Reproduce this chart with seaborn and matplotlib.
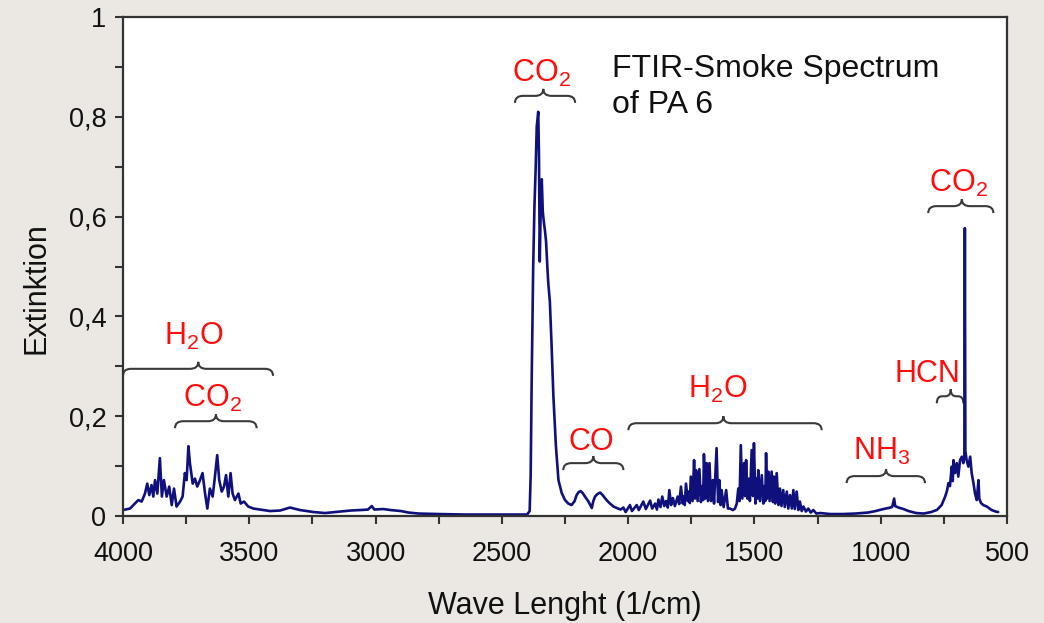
import numpy as np
import pandas as pd
import seaborn as sns
import matplotlib.pyplot as plt
from matplotlib.path import Path
from matplotlib.patches import PathPatch
from matplotlib.ticker import MultipleLocator, FuncFormatter

# ---- spectrum (wave number in 1/cm, extinction) ----
wave = [4000, 3972, 3953, 3939, 3926, 3913, 3904, 3896, 3887, 3880, 3873, 3864, 3854, 3846,
        3838, 3827, 3817, 3807, 3798, 3788, 3774, 3764, 3755, 3748, 3741, 3735, 3724, 3715,
        3706, 3695, 3685, 3675, 3666, 3656, 3645, 3636, 3627, 3619, 3609, 3600, 3592, 3583,
        3574, 3566, 3557, 3543, 3534, 3521, 3504, 3484, 3458, 3418, 3378, 3339, 3299, 3246,
        3200, 3140, 3100, 3060, 3030, 3015, 3005, 2970, 2940, 2900, 2870, 2830, 2750, 2650,
        2550, 2450, 2400,
        2390, 2386, 2382, 2376, 2371, 2366, 2362, 2358, 2356, 2353, 2350, 2346, 2342, 2338,
        2334, 2329, 2325, 2320, 2316, 2310, 2303, 2296, 2290, 2286, 2276, 2263, 2250, 2237,
        2224, 2212, 2204, 2196, 2188, 2180, 2171, 2164, 2157, 2150, 2144, 2138, 2131, 2122,
        2111, 2101, 2092, 2082, 2072, 2058, 2045, 2030,
        2019, 2010, 1993, 1985, 1966, 1958, 1940, 1930, 1913, 1905, 1893, 1886, 1880, 1872,
        1865, 1857, 1850, 1843, 1837, 1830, 1823, 1815, 1804, 1798, 1791, 1784, 1781, 1776,
        1771, 1764, 1760, 1756, 1752, 1745, 1739, 1735, 1731, 1725, 1718, 1712, 1706, 1703,
        1700, 1694, 1689, 1684, 1678, 1672, 1665, 1660, 1650, 1644, 1639, 1634, 1630, 1622,
        1612, 1605, 1597, 1585, 1577, 1570, 1564, 1559, 1554, 1548, 1541, 1537, 1533, 1528,
        1524, 1518, 1511, 1506, 1502, 1496, 1491, 1487, 1485, 1478, 1471, 1465, 1460, 1457,
        1454, 1450, 1445, 1440, 1432, 1427, 1423, 1418, 1412, 1405, 1399, 1393, 1386, 1380,
        1372, 1366, 1359, 1352, 1346, 1340, 1333, 1326, 1320, 1313, 1306, 1296, 1287, 1277,
        1267, 1255, 1240, 1200,
        1150, 1100, 1050, 1020, 990, 970, 955, 947, 943, 930, 910, 890, 860, 830, 800,
        790, 778, 759, 745, 738, 732, 726, 719, 715, 712, 706, 699, 693, 686, 679, 673, 669,
        667, 665, 660, 653, 646, 640, 633, 627, 620, 613, 610, 603, 594, 580, 561, 545, 535]

extinction = [0.012, 0.015, 0.025, 0.032, 0.029, 0.045, 0.065, 0.042, 0.062, 0.039, 0.072, 0.045,
              0.116, 0.039, 0.072, 0.039, 0.059, 0.022, 0.055, 0.019, 0.029, 0.039, 0.086, 0.072,
              0.140, 0.106, 0.065, 0.075, 0.059, 0.072, 0.086, 0.045, 0.015, 0.055, 0.039, 0.079,
              0.122, 0.072, 0.049, 0.059, 0.082, 0.039, 0.086, 0.045, 0.032, 0.045, 0.025, 0.029,
              0.019, 0.015, 0.013, 0.010, 0.011, 0.017, 0.012, 0.008,
              0.006, 0.009, 0.011, 0.012, 0.013, 0.020, 0.013, 0.014, 0.012, 0.010, 0.007, 0.005,
              0.004, 0.003, 0.003, 0.003, 0.003,
              0.010, 0.080, 0.270, 0.500, 0.620, 0.700, 0.780, 0.800, 0.810, 0.720, 0.510, 0.620,
              0.675, 0.610, 0.590, 0.570, 0.550, 0.500, 0.465, 0.430, 0.340, 0.240, 0.180, 0.140,
              0.072, 0.046, 0.032, 0.025, 0.022, 0.030, 0.042, 0.048, 0.050, 0.046, 0.039, 0.034,
              0.029, 0.022, 0.016, 0.030, 0.039, 0.044, 0.047, 0.042, 0.036, 0.030, 0.025, 0.019,
              0.016, 0.013,
              0.017, 0.008, 0.022, 0.010, 0.022, 0.012, 0.029, 0.014, 0.031, 0.015, 0.025, 0.013,
              0.033, 0.018, 0.039, 0.020, 0.030, 0.017, 0.052, 0.022, 0.036, 0.020, 0.039, 0.024,
              0.059, 0.025, 0.039, 0.022, 0.065, 0.030, 0.049, 0.026, 0.079, 0.030, 0.112, 0.035,
              0.092, 0.030, 0.094, 0.028, 0.060, 0.032, 0.124, 0.035, 0.106, 0.030, 0.106, 0.030,
              0.072, 0.025, 0.136, 0.028, 0.072, 0.022, 0.052, 0.018, 0.052, 0.015, 0.015, 0.012,
              0.015, 0.025, 0.055, 0.030, 0.142, 0.035, 0.106, 0.040, 0.112, 0.035, 0.075, 0.030,
              0.132, 0.040, 0.146, 0.025, 0.075, 0.035, 0.092, 0.030, 0.082, 0.025, 0.060, 0.030,
              0.126, 0.035, 0.089, 0.030, 0.089, 0.028, 0.079, 0.025, 0.086, 0.022, 0.055, 0.020,
              0.052, 0.018, 0.049, 0.015, 0.042, 0.015, 0.052, 0.014, 0.049, 0.012, 0.029, 0.010,
              0.019, 0.009, 0.015, 0.007, 0.012, 0.005, 0.006, 0.004,
              0.004, 0.005, 0.007, 0.010, 0.014, 0.016, 0.018, 0.035, 0.020, 0.017, 0.014, 0.010,
              0.006, 0.005, 0.008,
              0.010, 0.012, 0.022, 0.039, 0.050, 0.066, 0.060, 0.099, 0.070, 0.112, 0.086, 0.106,
              0.079, 0.112, 0.119, 0.106, 0.120, 0.577, 0.130, 0.112, 0.099, 0.119, 0.086, 0.066,
              0.046, 0.032, 0.072, 0.035, 0.026, 0.022, 0.019, 0.012, 0.009, 0.008]

# ---- band annotations ----
band_names = [r"H$_\mathregular{2}$O", r"CO$_\mathregular{2}$", r"CO$_\mathregular{2}$", "CO",
              r"H$_\mathregular{2}$O", r"NH$_\mathregular{3}$", "HCN", r"CO$_\mathregular{2}$"]
band_from = [4000, 3794, 2448, 2257, 1999, 1135, 778, 812]
band_to = [3406, 3471, 2210, 2019, 1234, 825, 673, 554]
band_tip = [3702, 3632, 2336, 2138, 1623, 979, 723, 679]
brace_y = [0.295, 0.190, 0.842, 0.106, 0.186, 0.080, 0.240, 0.621]
name_x = [3721, 3644, 2343, 2145, 1644, 997, 815, 694]
name_y = [0.343, 0.218, 0.870, 0.132, 0.236, 0.112, 0.269, 0.649]

df = pd.DataFrame({"wave": wave, "extinction": extinction})

sns.set_theme(style="ticks")
plt.rcParams['font.family'] = ['Liberation Sans', 'DejaVu Sans']
plt.rcParams['mathtext.fontset'] = 'custom'
plt.rcParams['mathtext.rm'] = 'Liberation Sans'
plt.rcParams['mathtext.it'] = 'Liberation Sans:italic'

bg = "#ebe7e3"
fig = plt.figure(figsize=(10.44, 6.23), dpi=100, facecolor=bg)
ax = fig.add_axes([0.1178, 0.1717, 0.8468, 0.801])
ax.set_facecolor("white")

sns.lineplot(data=df, x="wave", y="extinction", sort=False, estimator=None,
             color="#10107c", lw=1.9, ax=ax)


def brace(ax, x0, x1, xm, y, h=0.014, d=32):
    d = min(d, abs(x0 - x1) / 5)
    verts = [(x0, y - h), (x0, y), (x0 - d, y),
             (xm + d, y),
             (xm, y), (xm, y + h),
             (xm, y), (xm - d, y),
             (x1 + d, y),
             (x1, y), (x1, y - h)]
    codes = [Path.MOVETO, Path.CURVE3, Path.CURVE3,
             Path.LINETO,
             Path.CURVE3, Path.CURVE3,
             Path.CURVE3, Path.CURVE3,
             Path.LINETO,
             Path.CURVE3, Path.CURVE3]
    ax.add_patch(PathPatch(Path(verts, codes), fill=False, ec="#3a3a3a", lw=1.5))


for i in range(len(band_names)):
    brace(ax, band_from[i], band_to[i], band_tip[i], brace_y[i])
    ax.text(name_x[i], name_y[i], band_names[i], color="#ff0d0d", fontsize=22,
            ha="center", va="baseline")

ax.text(0.553, 0.880, "FTIR-Smoke Spectrum", transform=ax.transAxes, fontsize=23,
        color="#111111", va="baseline")
ax.text(0.553, 0.808, "of PA 6", transform=ax.transAxes, fontsize=23,
        color="#111111", va="baseline")

ax.set_xlim(4000, 500)
ax.set_ylim(0, 1)
ax.xaxis.set_major_locator(MultipleLocator(500))
ax.xaxis.set_minor_locator(MultipleLocator(250))
ax.yaxis.set_major_locator(MultipleLocator(0.2))
ax.yaxis.set_minor_locator(MultipleLocator(0.1))
ax.yaxis.set_major_formatter(FuncFormatter(lambda v, p: f"{v:.1f}".rstrip("0").rstrip(".").replace(".", ",")))

ax.tick_params(which="both", direction="out", length=6, width=1.5, color="#333333")
ax.tick_params(axis="x", which="major", labelsize=19.5, pad=12, labelcolor="#111111")
ax.tick_params(axis="y", which="major", labelsize=19.5, pad=6, labelcolor="#111111")
for s in ax.spines.values():
    s.set_visible(True)
    s.set_color("#333333")
    s.set_linewidth(1.6)

ax.set_xlabel("Wave Lenght (1/cm)", fontsize=22, color="#111111")
ax.set_ylabel("Extinktion", fontsize=22, color="#111111")
ax.xaxis.set_label_coords(0.5, -0.15)
ax.yaxis.set_label_coords(-0.081, 0.457)

plt.savefig("out.png", dpi=100, facecolor=bg)
